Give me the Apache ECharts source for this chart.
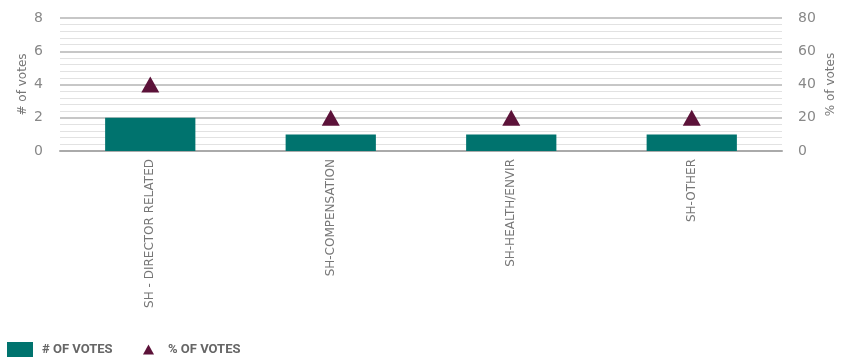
<!DOCTYPE html>
<html><head><meta charset="utf-8">
<script src="https://cdn.jsdelivr.net/npm/echarts@6/dist/echarts.min.js"></script>
<style>html,body{margin:0;padding:0;background:#fff}#c{width:848px;height:358px}</style>
</head><body><div id="c"></div>
<script>
var categories = ['SH - DIRECTOR RELATED', 'SH-COMPENSATION', 'SH-HEALTH/ENVIR', 'SH-OTHER'];
var votes = [2, 1, 1, 1];
var pctVotes = [40, 20, 20, 20];
var leftTicks = [0, 8, 2];
var rightTicks = [0, 80, 20];

var chart = echarts.init(document.getElementById('c'));
var txt = '#777';
chart.setOption({
  animation: false,
  textStyle: {fontFamily: 'DejaVu Sans'},
  grid: {left: 60, right: 66, top: 18, bottom: 207, containLabel: false, outerBoundsMode: 'none'},
  legend: [{
    data: ['# OF VOTES'], left: 2, bottom: -4, itemWidth: 26, itemHeight: 15, itemGap: 10, icon: 'rect',
    textStyle: {color: '#666', fontSize: 13, fontWeight: 'bold', fontFamily: 'Roboto', padding: [0, 0, 0, 4]}
  }, {
    data: ['% OF VOTES'], left: 138, bottom: -3, icon: 'triangle', itemWidth: 11, itemHeight: 10, itemGap: 10,
    textStyle: {color: '#666', fontSize: 13, fontWeight: 'bold', fontFamily: 'Roboto', padding: [0, 0, 0, 9]}
  }],
  xAxis: {
    type: 'category', data: categories,
    axisLine: {lineStyle: {color: '#aaa', width: 2}},
    axisTick: {show: false},
    axisLabel: {rotate: 90, color: txt, fontSize: 12, margin: 8, fontFamily: 'DejaVu Sans'}
  },
  yAxis: [{
    type: 'value', min: leftTicks[0], max: leftTicks[1], interval: leftTicks[2],
    name: '# of votes', nameLocation: 'middle', nameGap: 31, nameRotate: 90, nameMoveOverlap: false,
    nameTextStyle: {color: txt, fontSize: 12},
    axisLabel: {color: '#888', fontSize: 14, margin: 17},
    axisLine: {show: false}, axisTick: {show: false},
    splitLine: {lineStyle: {color: '#b5b5b5', width: 1.5}},
    minorTick: {show: false, splitNumber: 5},
    minorSplitLine: {show: true, lineStyle: {color: '#e2e2e2', width: 1}}
  }, {
    type: 'value', min: rightTicks[0], max: rightTicks[1], interval: rightTicks[2],
    name: '% of votes', nameLocation: 'middle', nameGap: 43, nameRotate: 90, nameMoveOverlap: false,
    nameTextStyle: {color: txt, fontSize: 12},
    axisLabel: {color: '#888', fontSize: 14, margin: 16},
    axisLine: {show: false}, axisTick: {show: false},
    splitLine: {show: false}
  }],
  series: [{
    name: '# OF VOTES', type: 'bar', data: votes, barWidth: '50%',
    itemStyle: {color: '#00736e'}, yAxisIndex: 0
  }, {
    name: '% OF VOTES', type: 'scatter', data: pctVotes, yAxisIndex: 1,
    symbol: 'triangle', symbolSize: [18, 16],
    itemStyle: {color: '#5c1239', opacity: 1}
  }]
});
</script></body></html>
